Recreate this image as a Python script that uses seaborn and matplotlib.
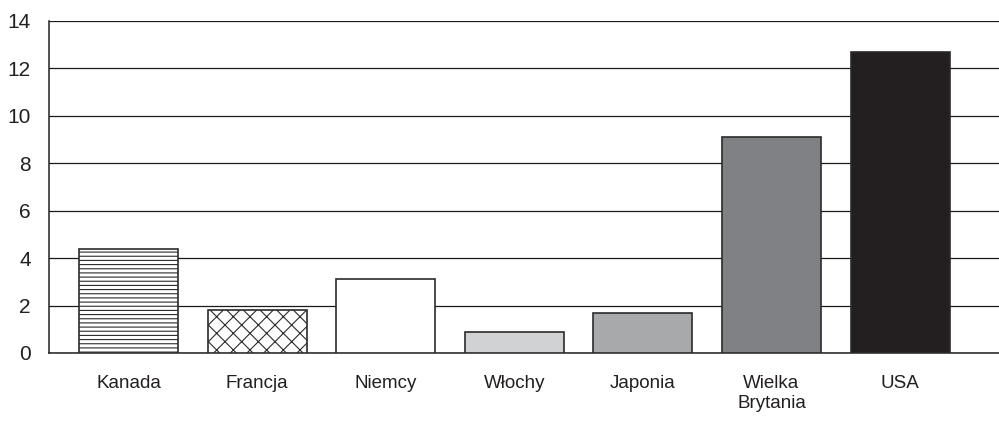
import matplotlib
matplotlib.use("Agg")
import matplotlib.pyplot as plt
import seaborn as sns
import pandas as pd

# Data
countries = ["Kanada", "Francja", "Niemcy", "Włochy", "Japonia", "Wielka\nBrytania", "USA"]
values = [4.4, 1.8, 3.1, 0.9, 1.7, 9.1, 12.7]
bar_colors = ["#ffffff", "#ffffff", "#ffffff", "#d1d2d4", "#a7a9ab", "#808184", "#231f20"]
bar_hatches = ["----", "xx", "", "", "", "", ""]
y_ticks = [0, 2, 4, 6, 8, 10, 12, 14]

sns.set_theme(style="white")
plt.rcParams["font.family"] = ["Liberation Sans", "DejaVu Sans"]
plt.rcParams["hatch.linewidth"] = 0.8
plt.rcParams["hatch.color"] = "#231f20"

df = pd.DataFrame({"kraj": countries, "wartosc": values})

fig = plt.figure(figsize=(9.99, 4.24), dpi=100)
ax = fig.add_axes([0.049, 0.1675, 0.951, 0.783])

sns.barplot(data=df, x="kraj", y="wartosc", hue="kraj", palette=bar_colors,
            width=0.77, edgecolor="#2b2b2b", linewidth=1.2, legend=False,
            saturation=1, ax=ax, zorder=3)

for patch, h in zip(ax.patches, bar_hatches):
    if h:
        patch.set_hatch(h)

ax.set_ylim(0, 14)
ax.set_xlim(-0.62, 6.77)
ax.set_yticks(y_ticks)
ax.set_yticklabels([str(t) for t in y_ticks])
ax.yaxis.grid(True, color="#1a1a1a", linewidth=0.9)
ax.set_axisbelow(True)

ax.set_xlabel("")
ax.set_ylabel("")
ax.tick_params(axis="both", length=0, labelcolor="#231f20")
ax.tick_params(axis="x", pad=16, labelsize=13.5)
ax.tick_params(axis="y", pad=13, labelsize=15)

for side in ["top", "right"]:
    ax.spines[side].set_visible(False)
for side in ["left", "bottom"]:
    ax.spines[side].set_color("#231f20")
    ax.spines[side].set_linewidth(1.1)

fig.savefig("out.png", dpi=100)
